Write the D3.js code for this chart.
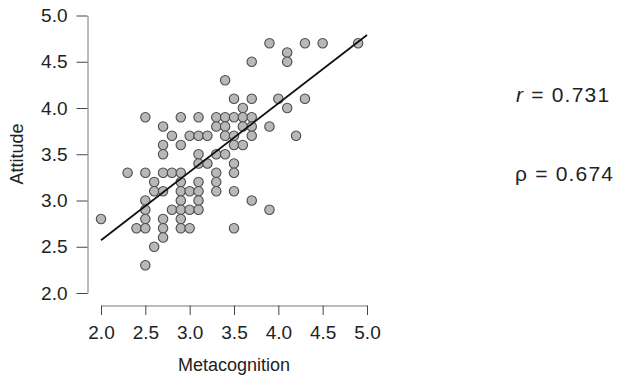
<!DOCTYPE html>
<html>
<head>
<meta charset="utf-8">
<script src="https://cdn.jsdelivr.net/npm/d3@7"></script>
<style>
  html, body { margin: 0; padding: 0; background: #fff; }
  svg { display: block; }
  text { font-family: "Liberation Sans", Arial, sans-serif; fill: #222; }
</style>
</head>
<body>
<svg id="chart" width="619" height="375"></svg>
<script>
// Data: [metacognition, attitude]
const metacognition = [
  3.9, 4.3, 4.5, 4.9,
  4.1,
  3.7, 4.1,
  3.4,
  3.5, 3.7, 4.0, 4.3,
  3.6, 4.1,
  2.5, 2.9, 3.1, 3.3, 3.4, 3.5, 3.6, 3.7,
  2.7, 3.3, 3.4, 3.6, 3.7, 3.9,
  2.8, 3.0, 3.1, 3.2, 3.4, 3.5, 3.7, 4.2,
  2.7, 2.9, 3.5, 3.6,
  2.7, 3.1, 3.3, 3.4,
  3.1, 3.2, 3.5,
  2.3, 2.5, 2.7, 2.8, 2.9, 3.3, 3.5,
  2.6, 2.9, 3.1, 3.3,
  2.6, 2.7, 2.9, 3.0, 3.1, 3.3, 3.5,
  2.5, 2.9, 3.1, 3.7,
  2.5, 2.8, 2.9, 3.0, 3.1, 3.9,
  2.0, 2.5, 2.7, 2.9,
  2.4, 2.5, 2.7, 2.9, 3.0, 3.5,
  2.7,
  2.6,
  2.5
];
const attitude = [
  4.7, 4.7, 4.7, 4.7,
  4.6,
  4.5, 4.5,
  4.3,
  4.1, 4.1, 4.1, 4.1,
  4.0, 4.0,
  3.9, 3.9, 3.9, 3.9, 3.9, 3.9, 3.9, 3.9,
  3.8, 3.8, 3.8, 3.8, 3.8, 3.8,
  3.7, 3.7, 3.7, 3.7, 3.7, 3.7, 3.7, 3.7,
  3.6, 3.6, 3.6, 3.6,
  3.5, 3.5, 3.5, 3.5,
  3.4, 3.4, 3.4,
  3.3, 3.3, 3.3, 3.3, 3.3, 3.3, 3.3,
  3.2, 3.2, 3.2, 3.2,
  3.1, 3.1, 3.1, 3.1, 3.1, 3.1, 3.1,
  3.0, 3.0, 3.0, 3.0,
  2.9, 2.9, 2.9, 2.9, 2.9, 2.9,
  2.8, 2.8, 2.8, 2.8,
  2.7, 2.7, 2.7, 2.7, 2.7, 2.7,
  2.6,
  2.5,
  2.3
];
// Fitted regression line endpoints
const fitX = [2.0, 5.0];
const fitY = [2.57, 4.79];
const xTicks = [2.0, 2.5, 3.0, 3.5, 4.0, 4.5, 5.0];
const yTicks = [2.0, 2.5, 3.0, 3.5, 4.0, 4.5, 5.0];
const statLabels = [
  { sym: "r", italic: true, value: "0.731" },
  { sym: "ρ", italic: false, value: "0.674" }
];

const svg = d3.select("#chart");
const x = d3.scaleLinear().domain([2, 5]).range([101, 367]);
const y = d3.scaleLinear().domain([2, 5]).range([293, 15.5]);
const fmt = d3.format(".1f");

// Y axis
const yAxisX = 87.5;
const gy = svg.append("g")
  .attr("transform", `translate(${yAxisX},0)`)
  .call(d3.axisLeft(y).tickValues(yTicks).tickFormat(fmt).tickSize(11).tickSizeOuter(0).tickPadding(9));
gy.select(".domain").attr("stroke", "#777");
gy.selectAll(".tick line").attr("stroke", "#444");
gy.selectAll(".tick text").attr("font-size", "19px").attr("fill", "#222")
  .attr("font-family", '"Liberation Sans", Arial, sans-serif');

// X axis
const xAxisY = 305.5;
const gx = svg.append("g")
  .attr("transform", `translate(0,${xAxisY})`)
  .call(d3.axisBottom(x).tickValues(xTicks).tickFormat(fmt).tickSize(9.5).tickSizeOuter(0).tickPadding(11));
gx.select(".domain").attr("stroke", "#777");
gx.selectAll(".tick line").attr("stroke", "#444");
gx.selectAll(".tick text").attr("font-size", "19px").attr("fill", "#222")
  .attr("font-family", '"Liberation Sans", Arial, sans-serif');

// Axis titles
svg.append("text")
  .attr("x", 234).attr("y", 371)
  .attr("text-anchor", "middle")
  .attr("font-size", "18px")
  .text("Metacognition");
svg.append("text")
  .attr("transform", `translate(23,154) rotate(-90)`)
  .attr("text-anchor", "middle")
  .attr("font-size", "18px")
  .text("Attitude");

// Points
svg.append("g")
  .selectAll("circle")
  .data(metacognition.map((m, i) => [m, attitude[i]]))
  .join("circle")
  .attr("cx", d => x(d[0]))
  .attr("cy", d => y(d[1]))
  .attr("r", 4.7)
  .attr("fill", "#b8b8b8")
  .attr("stroke", "#4a4a4a")
  .attr("stroke-width", 1.1);

// Regression line
svg.append("line")
  .attr("x1", x(fitX[0])).attr("y1", y(fitY[0]))
  .attr("x2", x(fitX[1])).attr("y2", y(fitY[1]))
  .attr("stroke", "#111")
  .attr("stroke-width", 1.8);

// Stats
const statY = [101.5, 181];
const statX = [516, 515];
statLabels.forEach((s, i) => {
  const t = svg.append("text")
    .attr("x", statX[i]).attr("y", statY[i])
    .attr("font-size", "21px")
    .attr("letter-spacing", "1.2px");
  t.append("tspan").attr("font-style", s.italic ? "italic" : "normal").text(s.sym);
  t.append("tspan").text(" = " + s.value);
});
</script>
</body>
</html>
